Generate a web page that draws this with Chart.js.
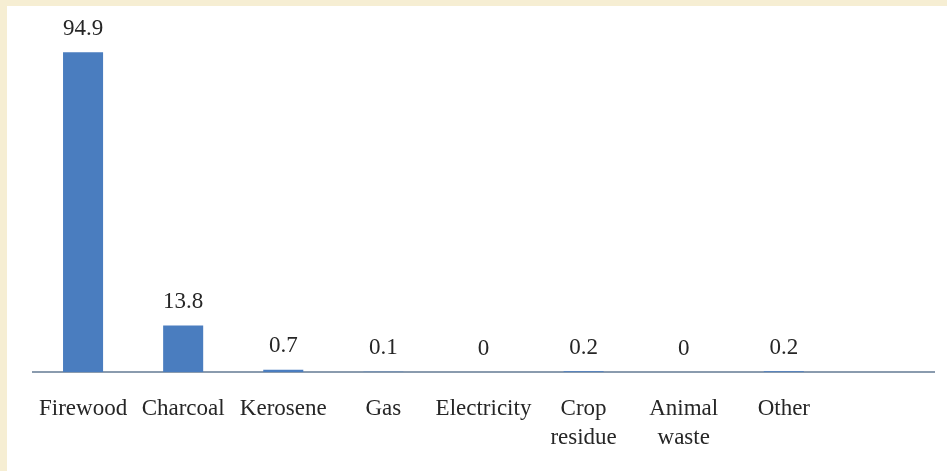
<!DOCTYPE html>
<html>
<head>
<meta charset="utf-8">
<script src="https://cdn.jsdelivr.net/npm/chart.js@4"></script>
<style>
  html, body { margin: 0; padding: 0; background: #f6eed3; width: 947px; height: 471px; overflow: hidden; }
  #panel { position: absolute; left: 7px; top: 6px; width: 940px; height: 465px; background: #fff; overflow: hidden; }
  canvas { display: block; }
</style>
</head>
<body>
<div id="panel"><canvas id="chart" width="940" height="468"></canvas></div>
<script>
/* Household cooking fuel – share (%) */
const categories = ["Firewood", "Charcoal", "Kerosene", "Gas", "Electricity",
                    ["Crop", "residue"], ["Animal", "waste"], "Other", ""];
const values     = [94.9, 13.8, 0.7, 0.1, 0, 0.2, 0, 0.2, null];

const FONT = "'Liberation Serif', 'Times New Roman', serif";

/* value labels above each bar */
const valueLabels = {
  id: "valueLabels",
  afterDatasetsDraw(chart) {
    const ctx  = chart.ctx;
    const meta = chart.getDatasetMeta(0);
    ctx.save();
    ctx.font = "23px " + FONT;
    ctx.fillStyle = "#262626";
    ctx.textAlign = "center";
    ctx.textBaseline = "bottom";
    meta.data.forEach((bar, i) => {
      if (values[i] === null) return;
      ctx.fillText(String(values[i]), bar.x, bar.y - 12);
    });
    ctx.restore();
  }
};

new Chart(document.getElementById("chart"), {
  type: "bar",
  data: {
    labels: categories,
    datasets: [{
      data: values,
      backgroundColor: "#4a7dbf",
      borderWidth: 0,
      barPercentage: 0.8,
      categoryPercentage: 0.5,
    }],
  },
  options: {
    responsive: false,
    animation: false,
    layout: { padding: { left: 26, right: 13, top: 29, bottom: 0 } },
    plugins: { legend: { display: false }, tooltip: { enabled: false } },
    scales: {
      x: {
        grid: { display: false, drawTicks: false },
        border: { display: true, color: "#8a9bae", width: 2 },
        ticks: {
          color: "#262626",
          padding: 22,
          maxRotation: 0,
          autoSkip: false,
          font: { family: FONT, size: 23, lineHeight: 1.26 },
        },
      },
      y: { display: false, min: 0, max: 100 },
    },
  },
  plugins: [valueLabels],
});
</script>
</body>
</html>
